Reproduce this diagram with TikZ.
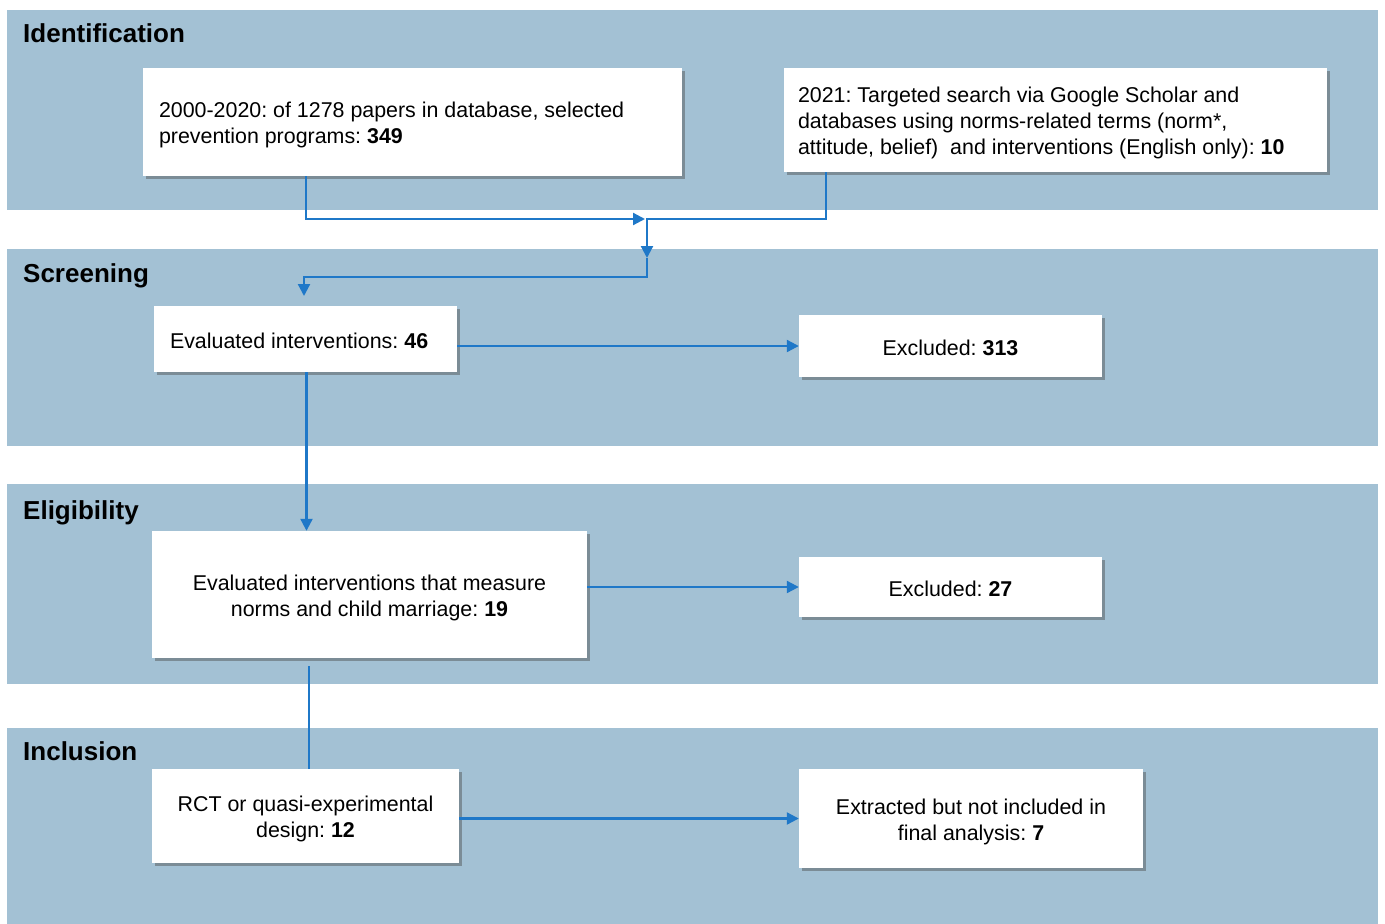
\documentclass[tikz,border=0pt]{standalone}
\usepackage{fontspec}
\setmainfont{Liberation Sans}
\usetikzlibrary{arrows.meta,shadows}
\definecolor{band}{HTML}{A3C1D4}
\definecolor{flow}{HTML}{1F78C8}
\newcommand\lowertext[2]{\raisebox{0pt}[\dimexpr\height+#1\relax][\depth]{#2}}
\begin{document}
\frenchspacing
\begin{tikzpicture}[x=1pt,y=-1pt,
 bandfill/.style={fill=band, draw=none},
 heading/.style={anchor=base west, inner sep=0pt, font=\fontsize{26}{30}\selectfont\bfseries},
 box/.style={fill=white, draw=none, drop shadow={shadow xshift=3pt, shadow yshift=-3pt, opacity=0.45, fill=black!70}, font=\fontsize{21.4}{26}\selectfont, inner sep=0pt},
 conn/.style={draw=flow, line width=2.2pt},
 arr/.style={conn, -{Triangle[length=12pt,width=12pt]}},
]
\fill[white] (0,0) rectangle (1385,924);
\useasboundingbox (0,0) rectangle (1385,924);
\fill[bandfill] (7,10) rectangle (1378,210);
\fill[bandfill] (7,249) rectangle (1378,446);
\fill[bandfill] (7,484) rectangle (1378,684);
\fill[bandfill] (7,728) rectangle (1378,924);

\node[heading] (h1) at (23,42) {Identification};
\node[heading] (h2) at (23,282) {Screening};
\node[heading] (h3) at (23,519) {Eligibility};
\node[heading] (h4) at (23,760) {Inclusion};

\node[box, minimum width=539pt, minimum height=108pt] (A) at (412.5,122)
 {\lowertext{6pt}{\parbox{507pt}{\raggedright 2000-2020: of 1278 papers in database, selected\\prevention programs: \textbf{349}}}};
\node[box, minimum width=543pt, minimum height=104pt] (B) at (1055.5,120)
 {\lowertext{6pt}{\parbox{515pt}{\raggedright 2021: Targeted search via Google Scholar and\\databases using norms-related terms (norm*,\\attitude, belief)\ \ and interventions (English only): \textbf{10}}}};
\node[box, minimum width=303pt, minimum height=66pt] (C) at (305.5,339)
 {\lowertext{4pt}{\parbox{271pt}{\raggedright Evaluated interventions: \textbf{46}}}};
\node[box, minimum width=303pt, minimum height=62pt] (D) at (950.5,346)
 {\lowertext{4pt}{Excluded: \textbf{313}}};
\node[box, minimum width=435pt, minimum height=127pt] (E) at (369.5,594.5)
 {\lowertext{6pt}{\parbox{420pt}{\centering Evaluated interventions that measure\\norms and child marriage: \textbf{19}}}};
\node[box, minimum width=303pt, minimum height=60pt] (F) at (950.5,587)
 {\lowertext{4pt}{Excluded: \textbf{27}}};
\node[box, minimum width=307pt, minimum height=94pt] (G) at (305.5,816)
 {\lowertext{6pt}{\parbox{290pt}{\centering RCT or quasi-experimental\\design: \textbf{12}}}};
\node[box, minimum width=344pt, minimum height=99pt] (H) at (971,818.5)
 {\lowertext{6pt}{\parbox{330pt}{\centering Extracted but not included in\\final analysis: \textbf{7}}}};

\coordinate (m1) at (647,219);
\coordinate (m2) at (647,258);
\coordinate (m3) at (647,277);
\coordinate (c1) at (304,296);

\draw[arr] ([xshift=-106.5pt]A.south) |- ([xshift=-2pt]m1);
\draw[arr] ([xshift=-229.5pt]B.south) |- (m1) -- (m2);
\draw[arr] (m2) -- (m3) -| (c1);
\draw[arr] ([xshift=1pt]C.south) -- ([xshift=1pt]C.south |- E.north);
\draw[arr] (C.east |- D.west) -- (D.west);
\draw[arr] (E.east |- F.west) -- (F.west);
\draw[conn] ([shift={(-60.5pt,-8pt)}]E.south) -- ([xshift=3.5pt]G.north);
\draw[arr] (G.east |- H.west) -- (H.west);
\end{tikzpicture}
\end{document}
